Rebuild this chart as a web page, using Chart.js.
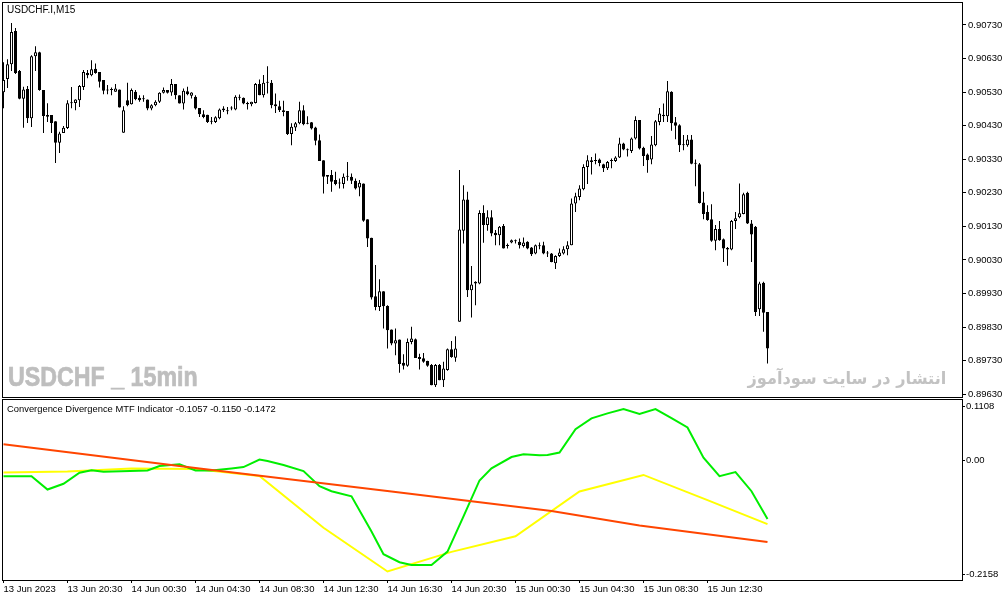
<!DOCTYPE html>
<html><head><meta charset="utf-8">
<script src="https://cdn.jsdelivr.net/npm/chart.js"></script>
<style>
html,body{margin:0;padding:0;background:#fff;width:1008px;height:601px;overflow:hidden;}
#wrap{position:relative;width:1008px;height:601px;background:#fff;}
canvas{position:absolute;left:0;}
.t{position:absolute;white-space:nowrap;}
</style></head><body>
<div id="wrap">
<canvas id="main" width="1008" height="399" style="top:0px"></canvas>
<canvas id="ind" width="1008" height="203" style="top:398px"></canvas>
<div class="t" style="left:7px;top:5px;font:10px 'Liberation Sans',Arial,sans-serif;line-height:10px;color:#000">USDCHF.I,M15</div>
<div class="t" style="left:7px;top:404px;font:9.4px 'Liberation Sans',Arial,sans-serif;line-height:10px;color:#000">Convergence Divergence MTF Indicator -0.1057 -0.1150 -0.1472</div>
<div class="t" style="left:8px;top:364px;font:bold 27px 'Liberation Sans',Arial,sans-serif;line-height:27px;color:#bebebe;-webkit-text-stroke:0.7px #bebebe;transform:scaleX(0.86);transform-origin:0 0">USDCHF _ 15min</div>
<div class="t" dir="rtl" style="right:62px;top:370px;font:bold 17px 'DejaVu Sans',sans-serif;line-height:17px;color:#c2c2c2;transform:scaleX(0.95);transform-origin:100% 0">انتشار در سایت سودآموز</div>
</div>
<script>
// ---- price data (USDCHF.I M15), bars 0..191 ----
const opens = [
0.90530,0.90569,0.90613,0.90712,0.90593,0.90510,0.90539,0.90452,0.90637,0.90649,0.90536,0.90462,0.90462,0.90443,0.90379,0.90408,
0.90423,0.90497,0.90498,0.90506,0.90545,0.90587,0.90580,0.90600,0.90590,0.90566,0.90536,0.90536,0.90531,0.90538,0.90409,0.90506,
0.90494,0.90531,0.90513,0.90509,0.90508,0.90481,0.90491,0.90501,0.90528,0.90536,0.90529,0.90554,0.90521,0.90496,0.90533,0.90519,
0.90516,0.90483,0.90464,0.90463,0.90443,0.90441,0.90452,0.90481,0.90473,0.90481,0.90478,0.90516,0.90513,0.90498,0.90494,0.90498,
0.90554,0.90521,0.90558,0.90558,0.90494,0.90488,0.90476,0.90474,0.90405,0.90425,0.90437,0.90476,0.90436,0.90440,0.90425,0.90387,
0.90327,0.90283,0.90283,0.90268,0.90258,0.90256,0.90278,0.90278,0.90266,0.90246,0.90258,0.90151,0.90096,0.89922,0.89890,0.89937,
0.89893,0.89823,0.89781,0.89793,0.89724,0.89715,0.89786,0.89794,0.89741,0.89737,0.89729,0.89717,0.89657,0.89717,0.89672,0.89702,
0.89764,0.89739,0.89846,0.90117,0.90210,0.89940,0.89960,0.89960,0.90170,0.90134,0.90157,0.90111,0.90104,0.90131,0.90072,0.90082,
0.90086,0.90084,0.90072,0.90084,0.90067,0.90049,0.90071,0.90074,0.90049,0.90049,0.90020,0.90042,0.90049,0.90062,0.90074,0.90198,
0.90218,0.90241,0.90307,0.90327,0.90325,0.90329,0.90315,0.90303,0.90325,0.90325,0.90335,0.90377,0.90357,0.90355,0.90392,0.90447,
0.90364,0.90344,0.90329,0.90372,0.90441,0.90463,0.90458,0.90531,0.90440,0.90431,0.90375,0.90372,0.90389,0.90317,0.90315,0.90201,
0.90173,0.90151,0.90087,0.90122,0.90092,0.90066,0.90061,0.90146,0.90157,0.90167,0.90230,0.90139,0.90129,0.89883,0.89962,0.89875];
const highs = [
0.90619,0.90628,0.90736,0.90721,0.90596,0.90546,0.90548,0.90640,0.90667,0.90650,0.90536,0.90497,0.90462,0.90443,0.90412,0.90429,
0.90506,0.90545,0.90509,0.90551,0.90596,0.90596,0.90625,0.90615,0.90590,0.90566,0.90551,0.90544,0.90554,0.90538,0.90488,0.90558,
0.90541,0.90536,0.90521,0.90521,0.90508,0.90494,0.90506,0.90530,0.90544,0.90536,0.90569,0.90554,0.90521,0.90541,0.90546,0.90530,
0.90521,0.90483,0.90476,0.90463,0.90456,0.90458,0.90481,0.90488,0.90486,0.90488,0.90521,0.90523,0.90514,0.90501,0.90501,0.90557,
0.90568,0.90581,0.90607,0.90566,0.90526,0.90504,0.90504,0.90474,0.90437,0.90441,0.90501,0.90491,0.90458,0.90441,0.90427,0.90404,
0.90327,0.90283,0.90298,0.90293,0.90273,0.90288,0.90322,0.90288,0.90273,0.90268,0.90258,0.90151,0.90096,0.90015,0.89973,0.89937,
0.89895,0.89823,0.89826,0.89793,0.89749,0.89796,0.89831,0.89796,0.89751,0.89753,0.89730,0.89720,0.89720,0.89720,0.89727,0.89766,
0.89789,0.89803,0.90298,0.90253,0.90233,0.90012,0.89967,0.90178,0.90193,0.90178,0.90178,0.90119,0.90131,0.90137,0.90079,0.90091,
0.90091,0.90094,0.90097,0.90086,0.90069,0.90076,0.90082,0.90084,0.90057,0.90051,0.90044,0.90064,0.90071,0.90086,0.90213,0.90230,
0.90253,0.90315,0.90342,0.90337,0.90347,0.90332,0.90317,0.90325,0.90332,0.90339,0.90394,0.90379,0.90362,0.90395,0.90458,0.90447,
0.90367,0.90347,0.90399,0.90447,0.90483,0.90496,0.90563,0.90533,0.90456,0.90434,0.90402,0.90402,0.90402,0.90329,0.90319,0.90233,
0.90193,0.90196,0.90134,0.90146,0.90094,0.90069,0.90149,0.90173,0.90258,0.90230,0.90233,0.90149,0.90131,0.89965,0.89965,0.89875];
const lows = [
0.90482,0.90542,0.90593,0.90584,0.90509,0.90424,0.90438,0.90426,0.90593,0.90534,0.90408,0.90441,0.90408,0.90319,0.90349,0.90408,
0.90420,0.90482,0.90476,0.90486,0.90536,0.90571,0.90577,0.90585,0.90544,0.90524,0.90524,0.90521,0.90531,0.90484,0.90409,0.90488,
0.90493,0.90506,0.90501,0.90501,0.90476,0.90476,0.90488,0.90498,0.90526,0.90526,0.90519,0.90509,0.90496,0.90478,0.90521,0.90511,
0.90478,0.90456,0.90452,0.90438,0.90434,0.90438,0.90449,0.90471,0.90464,0.90476,0.90476,0.90506,0.90494,0.90478,0.90488,0.90496,
0.90521,0.90514,0.90526,0.90482,0.90468,0.90471,0.90458,0.90402,0.90372,0.90414,0.90434,0.90431,0.90434,0.90419,0.90372,0.90325,
0.90228,0.90256,0.90233,0.90253,0.90243,0.90243,0.90266,0.90256,0.90240,0.90220,0.90144,0.90069,0.89912,0.89880,0.89878,0.89826,
0.89766,0.89776,0.89746,0.89694,0.89704,0.89712,0.89779,0.89738,0.89704,0.89724,0.89712,0.89657,0.89652,0.89672,0.89652,0.89700,
0.89739,0.89727,0.89846,0.90079,0.89920,0.89859,0.89895,0.89958,0.90081,0.90117,0.90101,0.90074,0.90074,0.90064,0.90064,0.90080,
0.90079,0.90064,0.90067,0.90062,0.90042,0.90047,0.90062,0.90047,0.90039,0.90023,0.90003,0.90039,0.90046,0.90044,0.90074,0.90173,
0.90208,0.90238,0.90256,0.90285,0.90315,0.90309,0.90292,0.90298,0.90303,0.90322,0.90334,0.90357,0.90338,0.90349,0.90389,0.90359,
0.90310,0.90290,0.90315,0.90369,0.90431,0.90441,0.90441,0.90415,0.90390,0.90352,0.90357,0.90367,0.90315,0.90250,0.90198,0.90151,
0.90147,0.90084,0.90059,0.90087,0.90024,0.90013,0.90059,0.90122,0.90154,0.90166,0.90137,0.90024,0.89863,0.89863,0.89816,0.89722];
const closes = [
0.90566,0.90613,0.90709,0.90587,0.90510,0.90538,0.90452,0.90637,0.90649,0.90536,0.90459,0.90457,0.90438,0.90379,0.90407,0.90424,
0.90497,0.90500,0.90508,0.90548,0.90590,0.90580,0.90598,0.90587,0.90561,0.90534,0.90535,0.90537,0.90541,0.90484,0.90476,0.90491,
0.90536,0.90509,0.90506,0.90510,0.90481,0.90491,0.90501,0.90528,0.90536,0.90528,0.90554,0.90521,0.90496,0.90534,0.90524,0.90529,
0.90481,0.90464,0.90456,0.90441,0.90442,0.90455,0.90478,0.90476,0.90474,0.90482,0.90516,0.90513,0.90496,0.90494,0.90501,0.90554,
0.90521,0.90558,0.90559,0.90491,0.90488,0.90476,0.90471,0.90405,0.90427,0.90437,0.90476,0.90434,0.90437,0.90422,0.90385,0.90325,
0.90278,0.90278,0.90263,0.90256,0.90259,0.90278,0.90279,0.90266,0.90243,0.90260,0.90147,0.90094,0.89918,0.89890,0.89937,0.89892,
0.89821,0.89781,0.89791,0.89720,0.89715,0.89786,0.89796,0.89738,0.89735,0.89727,0.89715,0.89657,0.89717,0.89672,0.89707,0.89764,
0.89741,0.89766,0.90121,0.90210,0.89940,0.89957,0.89965,0.90170,0.90134,0.90157,0.90109,0.90104,0.90129,0.90064,0.90073,0.90089,
0.90087,0.90074,0.90082,0.90064,0.90047,0.90074,0.90072,0.90049,0.90050,0.90024,0.90042,0.90052,0.90062,0.90074,0.90198,0.90220,
0.90243,0.90307,0.90327,0.90322,0.90326,0.90319,0.90303,0.90322,0.90326,0.90335,0.90377,0.90359,0.90358,0.90392,0.90447,0.90362,
0.90340,0.90327,0.90374,0.90443,0.90466,0.90458,0.90533,0.90437,0.90430,0.90372,0.90372,0.90389,0.90317,0.90318,0.90200,0.90167,
0.90149,0.90087,0.90122,0.90089,0.90064,0.90061,0.90146,0.90154,0.90169,0.90226,0.90139,0.90106,0.89875,0.89960,0.89873,0.89766];

// price axis
const priceTickLabels = ['0.90730','0.90630','0.90530','0.90430','0.90330','0.90230','0.90130','0.90030','0.89930','0.89830','0.89730','0.89630'];
const priceMin = 0.896219, priceMax = 0.907985;

// time axis (bar index of each label)
const timeTickIndex = [0,16,32,48,64,80,96,112,128,144,160,176];
const timeLabels = ['13 Jun 2023','13 Jun 20:30','14 Jun 00:30','14 Jun 04:30','14 Jun 08:30','14 Jun 12:30','14 Jun 16:30','14 Jun 20:30','15 Jun 00:30','15 Jun 04:30','15 Jun 08:30','15 Jun 12:30'];

// indicator (Convergence Divergence MTF)
const greenIdx = [0,7,11,15,19,22,25,36,39,44,48,52,57,60,64,66,70,75,79,82,87,92,95,99,102,107,111,115,119,122,127,130,134,136,139,143,147,151,155,159,163,167,171,175,179,183,187,191];
const greenVals = [-0.0284,-0.0284,-0.0525,-0.0422,-0.0222,-0.0180,-0.0204,-0.0180,-0.0102,-0.0071,-0.0180,-0.0180,-0.0144,-0.0120,0.0014,-0.0012,-0.0084,-0.0193,-0.0465,-0.0556,-0.0647,-0.1282,-0.1692,-0.1837,-0.1886,-0.1886,-0.1645,-0.1010,-0.0362,-0.0144,0.0061,0.0110,0.0092,0.0097,0.0141,0.0564,0.0758,0.0849,0.0927,0.0836,0.0927,0.0763,0.0594,0.0050,-0.0284,-0.0211,-0.0556,-0.1057];
const yellowIdx = [0,16,32,48,64,80,96,112,128,144,160,176,191];
const yellowVals = [-0.0217,-0.0199,-0.0144,-0.0153,-0.0280,-0.1215,-0.2005,-0.1651,-0.1369,-0.0561,-0.0262,-0.0716,-0.1150];
const redIdx = [0,49,97,137,159,191];
const redVals = [0.0291,-0.0144,-0.0561,-0.0915,-0.1173,-0.1472];
const indMin = -0.2158, indMax = 0.1108;
const indTickValues = [0.0969, 0, -0.2050];
const indTickLabels = ['0.1108','0.00','-0.2158'];

// ---- rendering ----
const AXIS_FONT = {family:"'Liberation Sans',Arial,sans-serif", size:9.5};
const X_MIN = -0.375, X_MAX = 239.625;
const frame = {id:'frame', afterDraw(chart){
  const {ctx, chartArea:a} = chart;
  ctx.save(); ctx.strokeStyle='#000'; ctx.lineWidth=1;
  ctx.strokeRect(a.left+0.5, a.top+0.5, a.right-a.left, a.bottom-a.top);
  ctx.restore();
}};
const idx = opens.map((_, i) => i);

new Chart(document.getElementById('main'), {
  type:'bar',
  data:{datasets:[
    {label:'body', order:1, grouped:false, data: idx.map(i => ({x:i, y:[opens[i], closes[i]]})),
     barThickness:3, minBarLength:1, borderWidth:1, borderColor:'#000', borderSkipped:false, inflateAmount:0,
     backgroundColor: c => closes[c.dataIndex] > opens[c.dataIndex] ? '#fff' : '#000'},
    {label:'wick', order:2, grouped:false, data: idx.map(i => ({x:i, y:[lows[i], highs[i]]})),
     barThickness:1, borderWidth:0, inflateAmount:0, backgroundColor:'#000'}
  ]},
  options:{
    responsive:false, animation:false, devicePixelRatio:1, events:[],
    layout:{padding:{left:2, top:2, right:0, bottom:2}},
    plugins:{legend:{display:false}, tooltip:{enabled:false}},
    scales:{
      x:{type:'linear', min:X_MIN, max:X_MAX, offset:false, display:false},
      y:{position:'right', min:priceMin, max:priceMax,
         border:{display:false},
         grid:{drawOnChartArea:false, drawTicks:true, tickLength:4, color:'#000', tickColor:'#000'},
         ticks:{color:'#000', font:AXIS_FONT, padding:2, autoSkip:false, callback:(v,i)=>priceTickLabels[i]},
         afterBuildTicks:s => { s.ticks = priceTickLabels.map(t => ({value:parseFloat(t)})); },
         afterFit:s => { s.width = 46; s.paddingTop = 0; s.paddingBottom = 0; }}
    }
  },
  plugins:[frame]
});

new Chart(document.getElementById('ind'), {
  type:'line',
  data:{datasets:[
    {label:'red', data: redIdx.map((x,k)=>({x, y:redVals[k]})), borderColor:'#ff4500', borderWidth:2, pointRadius:0, tension:0},
    {label:'green', data: greenIdx.map((x,k)=>({x, y:greenVals[k]})), borderColor:'#00ee00', borderWidth:2, pointRadius:0, tension:0},
    {label:'yellow', data: yellowIdx.map((x,k)=>({x, y:yellowVals[k]})), borderColor:'#ffff00', borderWidth:2, pointRadius:0, tension:0}
  ]},
  options:{
    responsive:false, animation:false, devicePixelRatio:1, events:[],
    layout:{padding:{left:2, top:1, right:0, bottom:0}},
    plugins:{legend:{display:false}, tooltip:{enabled:false}},
    scales:{
      x:{type:'linear', min:X_MIN, max:X_MAX, offset:false, position:'bottom',
         border:{display:false},
         grid:{drawOnChartArea:false, drawTicks:true, tickLength:3, color:'#000', tickColor:'#000'},
         ticks:{align:'start', color:'#000', font:AXIS_FONT, padding:1, maxRotation:0, autoSkip:false, callback:(v,i)=>timeLabels[i]},
         afterBuildTicks:s => { s.ticks = timeTickIndex.map(v => ({value:v})); },
         afterFit:s => { s.height = 21; s.paddingLeft = 0; s.paddingRight = 0; }},
      y:{position:'right', min:indMin, max:indMax,
         border:{display:false},
         grid:{drawOnChartArea:false, drawTicks:true, tickLength:3, color:'#000', tickColor:'#000'},
         ticks:{color:'#000', font:AXIS_FONT, padding:1, autoSkip:false, callback:(v,i)=>indTickLabels[i]},
         afterBuildTicks:s => { s.ticks = indTickValues.map(v => ({value:v})); },
         afterFit:s => { s.width = 46; s.paddingTop = 0; s.paddingBottom = 0; }}
    }
  },
  plugins:[frame]
});
</script>
</body></html>
